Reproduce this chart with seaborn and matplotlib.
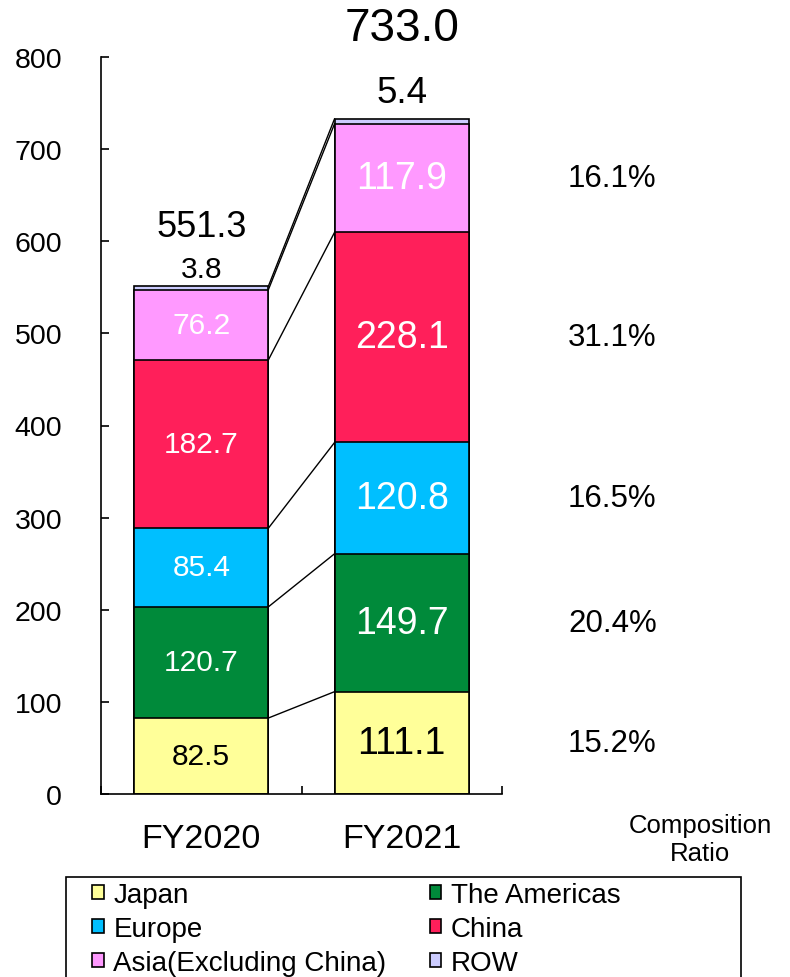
import numpy as np
import pandas as pd
import seaborn as sns
import matplotlib.pyplot as plt
from matplotlib.patches import Patch, Rectangle

years = ['FY2020', 'FY2021']
regions = ['Japan', 'The Americas', 'Europe', 'China', 'Asia(Excluding China)', 'ROW']
fy2020 = [82.5, 120.7, 85.4, 182.7, 76.2, 3.8]
fy2021 = [111.1, 149.7, 120.8, 228.1, 117.9, 5.4]
totals = [551.3, 733.0]
ratios = ['15.2%', '20.4%', '16.5%', '31.1%', '16.1%']
colors = ['#FFFF99', '#008A3A', '#00BFFF', '#FF1F5A', '#FF99FF', '#CCCCFF']
label_colors = ['black', 'white', 'white', 'white', 'white', 'black']

sns.set_style('ticks')
plt.rcParams['font.family'] = ['Liberation Sans', 'DejaVu Sans']
plt.rcParams['text.color'] = 'black'
plt.rcParams['xtick.color'] = 'black'
plt.rcParams['ytick.color'] = 'black'

df = pd.DataFrame({'Region': regions * 2,
                   'Year': [years[0]] * 6 + [years[1]] * 6,
                   'Value': fy2020 + fy2021})
df['Cum'] = df.groupby('Year')['Value'].cumsum()

fig = plt.figure(figsize=(7.9, 9.78), dpi=100)
ax = fig.add_axes([101 / 790, 1 - 795 / 978, 401 / 790, 737 / 978])

w = 0.67
# stacked bars: draw cumulative heights from the top segment down
for i in range(len(regions) - 1, -1, -1):
    sub = df[df['Region'] == regions[i]]
    sns.barplot(data=sub, x='Year', y='Cum', color=colors[i], width=w,
                edgecolor='black', linewidth=1.2, saturation=1, ax=ax, zorder=2)

# connecting lines between bars
c0 = np.cumsum(fy2020)
c1 = np.cumsum(fy2021)
for a, b in zip(c0, c1):
    ax.plot([w / 2, 1 - w / 2], [a, b], color='black', lw=1, zorder=1)

# segment labels
for j, (vals, fs) in enumerate([(fy2020, 21.5), (fy2021, 27)]):
    cum = np.cumsum(vals)
    for i in range(5):
        ax.text(j, cum[i] - vals[i] / 2, f'{vals[i]:.1f}', ha='center', va='center',
                fontsize=fs, color=label_colors[i])

ax.annotate(f'{fy2020[5]:.1f}', (0, totals[0]), xytext=(0, 12), textcoords='offset points',
            ha='center', va='center', fontsize=21.5)
ax.annotate(f'{totals[0]:.1f}', (0, totals[0]), xytext=(0, 43), textcoords='offset points',
            ha='center', va='center', fontsize=26)
ax.annotate(f'{fy2021[5]:.1f}', (1, totals[1]), xytext=(0, 19), textcoords='offset points',
            ha='center', va='center', fontsize=26.5, annotation_clip=False)
ax.annotate(f'{totals[1]:.1f}', (1, totals[1]), xytext=(0, 65), textcoords='offset points',
            ha='center', va='center', fontsize=33, annotation_clip=False)

# composition ratios
for i in range(5):
    ax.text(2.05, c1[i] - fy2021[i] / 2, ratios[i], ha='center', va='center',
            fontsize=22.5, clip_on=False)
ax.text(2.49, -49, 'Composition\nRatio', ha='center', va='center', fontsize=18.5,
        clip_on=False)

ax.set_ylim(0, 800)
ax.set_xlim(-0.5, 1.5)
ax.set_yticks(range(0, 801, 100))
ax.set_yticklabels([str(v) for v in range(0, 801, 100)], fontsize=20.5)
ax.tick_params(axis='y', direction='in', length=6, width=1.2, pad=28)
ax.set_xticks([-0.5, 0.5, 1.5])
ax.set_xticklabels([])
ax.tick_params(axis='x', which='major', direction='in', length=6, width=1.2)
ax.set_xticks([0, 1], minor=True)
ax.set_xticklabels(years, minor=True, fontsize=24.5)
ax.tick_params(axis='x', which='minor', length=0, pad=21)
ax.set_xlabel('')
ax.set_ylabel('')
sns.despine(ax=ax)
for s in ['left', 'bottom']:
    ax.spines[s].set_color('black')
    ax.spines[s].set_linewidth(1.2)

# legend box (runs past the bottom edge in the reference)
fig.patches.append(Rectangle((66 / 790, -0.02), 675 / 790, 0.02 + 1 - 878 / 978,
                             transform=fig.transFigure, facecolor='none',
                             edgecolor='black', linewidth=1.2))
handles = [Patch(facecolor=c, edgecolor='black', linewidth=1.2) for c in colors]
order = [0, 2, 4, 1, 3, 5]
leg = fig.legend([handles[k] for k in order], [regions[k] for k in order],
                 ncol=2, loc='upper left', bbox_to_anchor=(92 / 790, 1 - 883 / 978),
                 frameon=False, prop={'size': 20}, handlelength=0.42, handleheight=0.42,
                 handletextpad=0.35, labelspacing=0.29, borderaxespad=0, borderpad=0,
                 columnspacing=1.55)

fig.savefig('out.png', dpi=100)
